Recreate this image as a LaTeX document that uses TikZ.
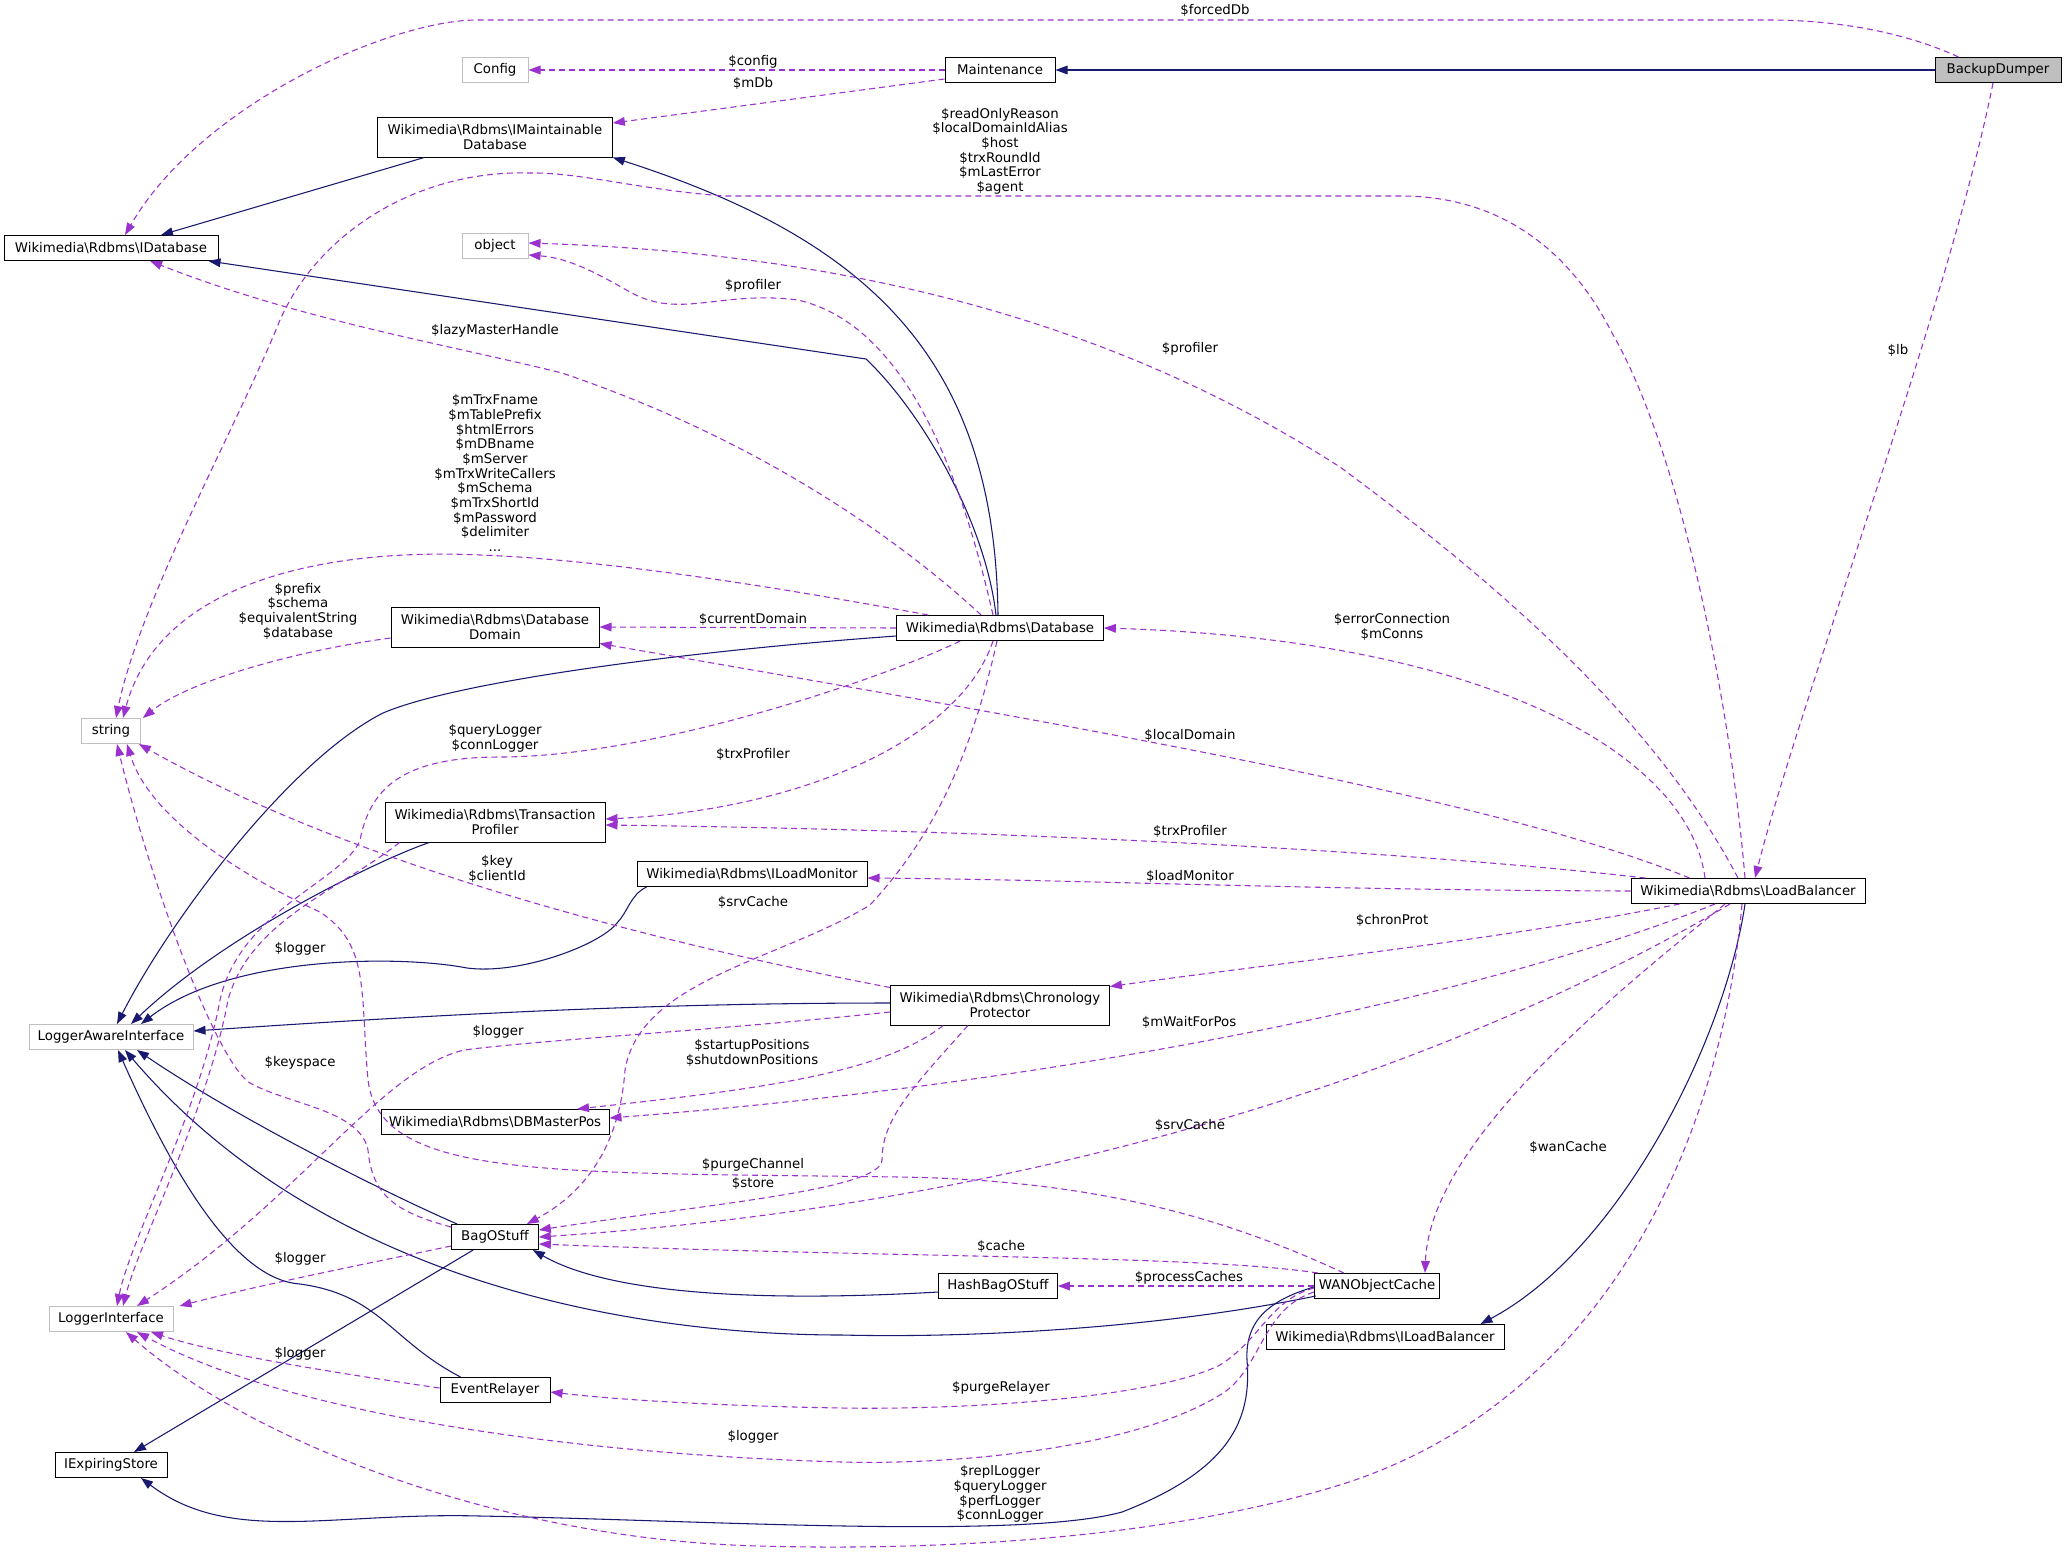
\documentclass[tikz,border=0pt]{standalone}
\usepackage{fontspec}
\setmainfont{DejaVu Sans}
\usetikzlibrary{arrows.meta,calc}
\definecolor{Inh}{HTML}{191970}
\definecolor{Mem}{HTML}{9A32CD}
\definecolor{Ext}{HTML}{BFBFBF}
\definecolor{Cur}{HTML}{BFBFBF}
\newcommand{\bsl}{\textbackslash}
\tikzset{
  bx/.style={rectangle,draw=black,fill=white,line width=0.75pt,font=\fontsize{10}{11}\selectfont,align=center,minimum height=18.75pt,inner xsep=2pt,inner ysep=3pt},
  bx2/.style={bx,minimum height=30pt},
  gx/.style={bx,draw=Ext},
  inh/.style={draw=Inh,line width=0.8pt,-{Triangle[length=9pt,width=6.5pt]}},
  mem/.style={draw=Mem,line width=0.8pt,dash pattern=on 4.5pt off 3pt,-{Triangle[length=9pt,width=6.5pt]}},
  el/.style={font=\fontsize{10}{11}\selectfont,align=center,inner sep=0pt},
}
\begin{document}
\begin{tikzpicture}[x=0.75pt,y=-0.75pt]
\path[use as bounding box,fill=white] (0,0) rectangle (2067,1554);
% -classes-
\node[bx,fill=Cur,minimum width=94.5pt] (bd) at (1998,70) {BackupDumper};
\node[bx,minimum width=82.5pt] (mnt) at (1000,70) {Maintenance};
\node[gx,minimum width=49.5pt] (cfg) at (495,70) {Config};
\node[bx2,minimum width=176pt] (imdb) at (495,137) {Wikimedia\bsl Rdbms\bsl IMaintainable\\Database};
\node[bx,minimum width=160.5pt] (idb) at (111,248) {Wikimedia\bsl Rdbms\bsl IDatabase};
\node[gx,minimum width=49.5pt] (obj) at (495,246) {object};
\node[bx2,minimum width=156pt] (dd) at (495,627) {Wikimedia\bsl Rdbms\bsl Database\\Domain};
\node[bx,minimum width=155pt] (db) at (1000,628) {Wikimedia\bsl Rdbms\bsl Database};
\node[gx,minimum width=44pt] (str) at (111,731) {string};
\node[bx2,minimum width=165pt] (tp) at (495,822) {Wikimedia\bsl Rdbms\bsl Transaction\\Profiler};
\node[bx,minimum width=172.5pt] (ilm) at (752,874) {Wikimedia\bsl Rdbms\bsl ILoadMonitor};
\node[bx,minimum width=175.5pt] (lb) at (1748,891) {Wikimedia\bsl Rdbms\bsl LoadBalancer};
\node[gx,minimum width=123pt] (lai) at (111,1037) {LoggerAwareInterface};
\node[bx2,minimum width=164pt] (cp) at (1000,1005) {Wikimedia\bsl Rdbms\bsl Chronology\\Protector};
\node[bx,minimum width=171pt] (dbmp) at (495,1122) {Wikimedia\bsl Rdbms\bsl DBMasterPos};
\node[bx,minimum width=65pt] (bag) at (495,1237) {BagOStuff};
\node[bx,minimum width=89pt] (hbag) at (998,1286) {HashBagOStuff};
\node[bx,minimum width=94pt] (wan) at (1377,1286) {WANObjectCache};
\node[bx,minimum width=178.5pt] (ilb) at (1385,1337) {Wikimedia\bsl Rdbms\bsl ILoadBalancer};
\node[gx,minimum width=93pt] (li) at (111,1319) {LoggerInterface};
\node[bx,minimum width=82.5pt] (er) at (495,1390) {EventRelayer};
\node[bx,minimum width=84pt] (ies) at (111,1465) {IExpiringStore};
% -inheritance-
\draw[inh] (bd.west) -- (mnt.east);
\draw[inh] ($(imdb.south west)+(47,0)$) -- ($(idb.north)+(50,0)$);
\draw[inh] ($(db.north)+(-2,0)$) .. controls (995,360) and (870,240) .. (imdb.south east);
\draw[inh] ($(db.north)+(-4,0)$) .. controls (985,520) and (920,410) .. (866,359) -- ($(idb.south east)+(-10,0)$);
\draw[inh] ($(db.west)+(0,8)$) .. controls (700,650) and (460,680) .. (383,713) .. controls (290,760) and (170,920) .. ($(lai.north)+(6,0)$);
\draw[inh] ($(tp.south west)+(45,0)$) .. controls (390,855) and (230,930) .. ($(lai.north)+(20,0)$);
\draw[inh] ($(ilm.south west)+(10,0)$) .. controls (630,895) and (628,912) .. (617,923) .. controls (600,945) and (520,975) .. (467,968) .. controls (400,955) and (230,955) .. ($(lai.north)+(30,0)$);
\draw[inh] ($(cp.west)+(0,-2)$) .. controls (700,1003) and (500,1010) .. ($(lai.east)+(0,-6)$);
\draw[inh] ($(bag.north west)+(6,0)$) .. controls (390,1195) and (240,1120) .. ($(lai.south)+(26,0)$);
\draw[inh] ($(er.north west)+(21,0)$) .. controls (390,1340) and (380,1295) .. (300,1284) .. controls (240,1280) and (180,1190) .. ($(lai.south)+(7,0)$);
\draw[inh] ($(wan.south west)+(2,-3)$) .. controls (1150,1330) and (960,1338) .. (842,1335) .. controls (650,1335) and (330,1290) .. ($(lai.south)+(14,0)$);
\draw[inh] ($(bag.south west)+(22,0)$) -- ($(ies.north)+(23,0)$);
\draw[inh] ($(wan.west)+(0,1)$) .. controls (1270,1300) and (1245,1320) .. (1247,1360) .. controls (1252,1420) and (1230,1470) .. (1122,1512) .. controls (1020,1540) and (700,1520) .. (480,1516) .. controls (330,1512) and (230,1545) .. ($(ies.south)+(30,0)$);
\draw[inh] ($(hbag.west)+(0,6)$) .. controls (800,1300) and (620,1300) .. ($(bag.south east)+(-6,0)$);
\draw[inh] ($(lb.south)+(-3,0)$) .. controls (1725,1040) and (1620,1250) .. ($(ilb.north east)+(-24,0)$);
% -members-
\draw[mem] ($(bd.north west)+(24,0)$) .. controls (1900,30) and (1830,20) .. (1769,20) -- (477,20) .. controls (390,20) and (200,105) .. ($(idb.north)+(14,0)$);
\draw[mem] ($(bd.south)+(-5,0)$) .. controls (1950,300) and (1800,700) .. ($(lb.north)+(7,0)$);
\draw[mem] (mnt.west) -- (cfg.east);
\draw[mem] ($(mnt.west)+(0,9)$) -- ($(imdb.east)+(0,-14)$);
\draw[mem] ($(lb.north)+(-3,0)$) .. controls (1730,700) and (1680,450) .. (1612,333) .. controls (1570,250) and (1500,196) .. (1401,196) -- (725,196) .. controls (640,190) and (580,172) .. (529,173) .. controls (420,170) and (320,230) .. (280,320) .. controls (240,420) and (140,600) .. ($(str.north)+(5,0)$);
\draw[mem] ($(lb.north)+(-10,0)$) .. controls (1660,730) and (1520,600) .. (1340,467) .. controls (1150,345) and (900,255) .. ($(obj.east)+(0,-3)$);
\draw[mem] ($(db.north)+(-7,0)$) .. controls (960,470) and (905,325) .. (798,300) .. controls (720,290) and (680,320) .. (630,292) .. controls (600,275) and (570,258) .. ($(obj.south east)+(0,-4)$);
\draw[mem] ($(db.north west)+(85,0)$) .. controls (900,540) and (760,440) .. (562,373) .. controls (450,345) and (300,320) .. ($(idb.south)+(39,0)$);
\draw[mem] ($(db.north west)+(32,0)$) .. controls (820,595) and (620,560) .. (480,555) .. controls (330,548) and (160,580) .. ($(str.north)+(12,0)$);
\draw[mem] ($(dd.west)+(0,11)$) .. controls (300,650) and (190,680) .. ($(str.north east)+(2,0)$);
\draw[mem] (db.west) -- (dd.east);
\draw[mem] ($(lb.north)+(-43,0)$) .. controls (1690,760) and (1500,640) .. (db.east);
\draw[mem] ($(lb.north west)+(59,0)$) .. controls (1500,800) and (1100,730) .. ($(dd.south east)+(0,-4)$);
\draw[mem] ($(db.south)+(-7,0)$) .. controls (960,740) and (800,810) .. ($(tp.east)+(0,-3)$);
\draw[mem] ($(lb.north west)+(15,0)$) .. controls (1400,850) and (1000,830) .. ($(tp.east)+(0,3)$);
\draw[mem] (lb.west) .. controls (1300,890) and (1100,880) .. ($(ilm.east)+(0,4)$);
\draw[mem] ($(lb.south west)+(49,0)$) .. controls (1500,940) and (1300,960) .. ($(cp.north east)+(0,2)$);
\draw[mem] ($(lb.south)+(-33,0)$) .. controls (1500,990) and (1100,1080) .. ($(dbmp.east)+(0,-4)$);
\draw[mem] ($(lb.south)+(-18,0)$) .. controls (1500,1040) and (1100,1200) .. (bag.east);
\draw[mem] ($(cp.south)+(-32,0)$) .. controls (910,1090) and (882,1120) .. (882,1160) .. controls (882,1190) and (700,1205) .. ($(bag.east)+(0,-7)$);
\draw[mem] ($(cp.south west)+(53,0)$) .. controls (880,1075) and (750,1090) .. ($(dbmp.north)+(82,0)$);
\draw[mem] ($(cp.north west)+(0,3)$) .. controls (720,955) and (380,880) .. ($(str.south east)+(-2,0)$);
\draw[mem] ($(cp.west)+(0,7)$) .. controls (720,1030) and (540,1040) .. (464,1050) .. controls (380,1070) and (300,1200) .. ($(li.north)+(26,0)$);
\draw[mem] ($(db.south west)+(64,0)$) .. controls (880,680) and (650,757) .. (500,757) .. controls (400,757) and (370,790) .. (360,840) .. controls (345,880) and (240,910) .. (220,1000) .. controls (200,1110) and (130,1240) .. ($(li.north)+(6,0)$);
\draw[mem] ($(tp.south west)+(15,0)$) .. controls (340,890) and (250,920) .. (228,1000) .. controls (208,1110) and (140,1240) .. ($(li.north)+(12,0)$);
\draw[mem] ($(bag.west)+(0,9)$) .. controls (360,1265) and (260,1285) .. ($(li.north east)+(6,0)$);
\draw[mem] ($(er.west)+(0,-2)$) .. controls (350,1375) and (220,1355) .. ($(li.south)+(40,0)$);
\draw[mem] ($(wan.west)+(0,6)$) .. controls (1260,1310) and (1262,1370) .. (1220,1395) .. controls (1130,1450) and (950,1465) .. (842,1462) .. controls (600,1455) and (300,1420) .. ($(li.south)+(26,0)$);
\draw[mem] ($(wan.west)+(0,2)$) .. controls (1270,1300) and (1260,1340) .. (1220,1365) .. controls (1150,1400) and (950,1410) .. (842,1408) .. controls (720,1406) and (620,1400) .. ($(er.east)+(0,2)$);
\draw[mem] ($(wan.north west)+(4,0)$) .. controls (1200,1255) and (900,1258) .. ($(bag.east)+(0,7)$);
\draw[mem] (wan.west) -- (hbag.east);
\draw[mem] ($(lb.south)+(-23,0)$) .. controls (1620,990) and (1430,1140) .. ($(wan.north)+(48,0)$);
\draw[mem] ($(lb.south)+(-6,0)$) .. controls (1720,1150) and (1600,1400) .. (1346,1483) .. controls (1150,1545) and (900,1550) .. (760,1546) .. controls (500,1540) and (250,1440) .. ($(li.south)+(15,0)$);
\draw[mem] ($(wan.north west)+(30,0)$) .. controls (1230,1220) and (1100,1180) .. (900,1177) .. controls (550,1172) and (380,1180) .. (368,1080) .. controls (360,990) and (370,945) .. (320,912) .. controls (250,880) and (150,820) .. ($(str.south)+(16,0)$);
\draw[mem] ($(bag.north west)+(0,3)$) .. controls (395,1212) and (372,1195) .. (368,1150) .. controls (360,1110) and (290,1105) .. (250,1083) .. controls (215,1060) and (150,880) .. ($(str.south)+(6,0)$);
\draw[mem] ($(db.south)+(-3,0)$) .. controls (975,740) and (940,830) .. (870,905) .. controls (780,960) and (640,980) .. (625,1070) .. controls (620,1140) and (590,1190) .. ($(bag.north east)+(-12,0)$);
% -labels-
\node[el] (tforced) at (1215,10) {\$forcedDb};
\node[el] (tlb) at (1898,350) {\$lb};
\node[el] (tconfig) at (753,62) {\$config};
\node[el] (tmdb) at (753,83) {\$mDb};
\node[el] (tro) at (1000,151) {\$readOnlyReason\\\$localDomainIdAlias\\\$host\\\$trxRoundId\\\$mLastError\\\$agent};
\node[el] (tprof1) at (1190,349) {\$profiler};
\node[el] (tprof2) at (753,286) {\$profiler};
\node[el] (tlazy) at (495,331) {\$lazyMasterHandle};
\node[el] (tmtrx) at (495,473) {\$mTrxFname\\\$mTablePrefix\\\$htmlErrors\\\$mDBname\\\$mServer\\\$mTrxWriteCallers\\\$mSchema\\\$mTrxShortId\\\$mPassword\\\$delimiter\\...};
\node[el] (tprefix) at (298,611) {\$prefix\\\$schema\\\$equivalentString\\\$database};
\node[el] (tcurdom) at (753,619) {\$currentDomain};
\node[el] (terrconn) at (1392,627) {\$errorConnection\\\$mConns};
\node[el] (tlocdom) at (1190,735) {\$localDomain};
\node[el] (tquery) at (495,738) {\$queryLogger\\\$connLogger};
\node[el] (ttrx1) at (753,754) {\$trxProfiler};
\node[el] (ttrx2) at (1190,831) {\$trxProfiler};
\node[el] (tkey) at (497,869) {\$key\\\$clientId};
\node[el] (tloadmon) at (1190,876) {\$loadMonitor};
\node[el] (tsrv1) at (753,902) {\$srvCache};
\node[el] (tchron) at (1392,920) {\$chronProt};
\node[el] (tlog1) at (300,949) {\$logger};
\node[el] (tlog2) at (498,1032) {\$logger};
\node[el] (twait) at (1189,1022) {\$mWaitForPos};
\node[el] (tstartup) at (752,1053) {\$startupPositions\\\$shutdownPositions};
\node[el] (tkeysp) at (300,1063) {\$keyspace};
\node[el] (tsrv2) at (1190,1125) {\$srvCache};
\node[el] (twancache) at (1568,1147) {\$wanCache};
\node[el] (tpurgech) at (753,1165) {\$purgeChannel};
\node[el] (tstore) at (753,1183) {\$store};
\node[el] (tcache) at (1001,1246) {\$cache};
\node[el] (tlog3) at (300,1259) {\$logger};
\node[el] (tprocc) at (1189,1278) {\$processCaches};
\node[el] (tlog4) at (300,1354) {\$logger};
\node[el] (tpurgerel) at (1001,1388) {\$purgeRelayer};
\node[el] (tlog5) at (753,1437) {\$logger};
\node[el] (trepl) at (1000,1494) {\$replLogger\\\$queryLogger\\\$perfLogger\\\$connLogger};
\end{tikzpicture}
\end{document}
